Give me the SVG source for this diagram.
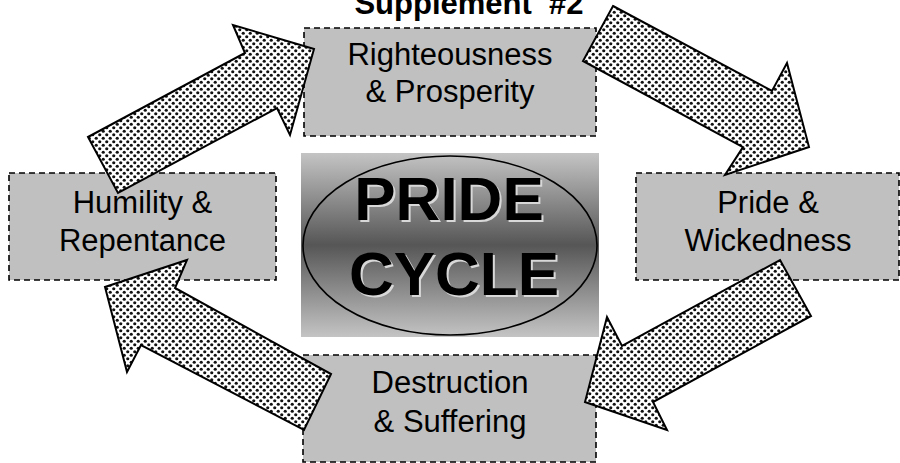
<svg xmlns="http://www.w3.org/2000/svg" width="900" height="463" viewBox="0 0 900 463">
  <defs>
    <pattern id="dots" width="7" height="7" patternUnits="userSpaceOnUse">
      <rect width="7" height="7" fill="#ffffff"/>
      <circle cx="1.75" cy="1.75" r="1.6" fill="#111111"/>
      <circle cx="5.25" cy="5.25" r="1.6" fill="#111111"/>
    </pattern>
    <linearGradient id="grad" x1="0" y1="0" x2="0" y2="1">
      <stop offset="0" stop-color="#c4c4c4"/>
      <stop offset="0.5" stop-color="#565656"/>
      <stop offset="1" stop-color="#c4c4c4"/>
    </linearGradient>
    <style>
      .box { fill: #c0c0c0; stroke: #000; stroke-width: 1.6; stroke-dasharray: 6 4; }
      .lbl { font-family: "Liberation Sans", Arial, sans-serif; font-size: 31px; fill: #000; text-anchor: middle; }
      .big { font-family: "Liberation Sans", Arial, sans-serif; font-size: 62px; font-weight: bold; text-anchor: middle; }
      .arrow { fill: url(#dots); stroke: #000; stroke-width: 2; stroke-linejoin: miter; }
    </style>
  </defs>

  <g id="center">
    <rect x="301" y="153" width="298" height="184" fill="url(#grad)"/>
    <ellipse cx="450" cy="245.5" rx="147" ry="89.5" fill="none" stroke="#000" stroke-width="1.6"/>
    <text class="big" x="451" y="222" fill="#d8d8d8">PRIDE</text>
    <text class="big" x="449" y="220" fill="#000">PRIDE</text>
    <text class="big" x="456" y="297" fill="#d8d8d8">CYCLE</text>
    <text class="big" x="454" y="295" fill="#000">CYCLE</text>
  </g>

  <g id="righteousness">
    <rect class="box" x="304" y="28" width="292" height="108"/>
    <text class="lbl" x="450" y="65">Righteousness</text>
    <text class="lbl" x="450" y="102">&amp; Prosperity</text>
  </g>

  <g id="pride">
    <rect class="box" x="636" y="173" width="263" height="107"/>
    <text class="lbl" x="768" y="213">Pride &amp;</text>
    <text class="lbl" x="768" y="251">Wickedness</text>
  </g>

  <g id="destruction">
    <rect class="box" x="303" y="355" width="293" height="107"/>
    <text class="lbl" x="450" y="393">Destruction</text>
    <text class="lbl" x="450" y="432">&amp; Suffering</text>
  </g>

  <g id="humility">
    <rect class="box" x="9" y="173" width="267" height="107"/>
    <text class="lbl" x="142.5" y="213">Humility &amp;</text>
    <text class="lbl" x="142.5" y="251">Repentance</text>
  </g>

  <g id="connectors">
    <polygon class="arrow" points="88,137 245,53 233,25 314,49 290,135 277,108 118,193"/>
    <polygon class="arrow" points="613,6 772,91 787,63 809,147 725,175 743,147 583,61"/>
    <polygon class="arrow" points="780,260 811,316 653,402 667,430 585,402 607,317 622,346"/>
    <polygon class="arrow" points="331,374 304,430 141,345 127,372 105,287 187,260 175,288"/>
  </g>

  <text x="469" y="14" font-family="Liberation Sans, Arial, sans-serif" font-size="31" font-weight="bold" text-anchor="middle" xml:space="preserve">Supplement  #2</text>
</svg>
